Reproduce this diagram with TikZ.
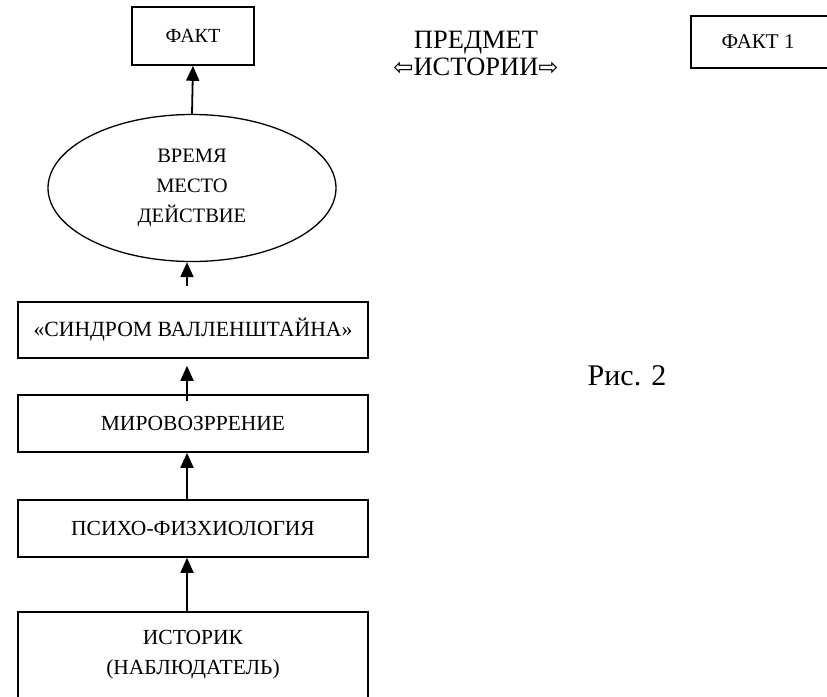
\documentclass[tikz,border=0pt]{standalone}
\usepackage{fontspec}
\setmainfont{Liberation Serif}
\newfontfamily\arrfont{DejaVu Sans}
\usetikzlibrary{shapes.geometric,arrows.meta}

\begin{document}
\begin{tikzpicture}[x=1pt,y=-1pt,>={Triangle[length=15pt,width=13pt]},
  box/.style={draw,line width=1.6pt,minimum width=350pt,inner sep=0pt,align=center},
  arr/.style={->,line width=1.8pt}]
\useasboundingbox (0,0) rectangle (827,696);
\clip (0,0) rectangle (827,696);
% top row
\node[box,minimum width=122pt,minimum height=58pt,font=\fontsize{20}{24}\selectfont] (fakt) at (193,36) {ФАКТ};
\node[align=center,font=\fontsize{26.5}{27}\selectfont] (subj) at (476,53) {ПРЕДМЕТ\\{\arrfont\fontsize{24}{27}\selectfont ⇦}ИСТОРИИ{\arrfont\fontsize{24}{27}\selectfont ⇨}};
\node[box,draw=none,minimum width=170pt,minimum height=50pt,font=\fontsize{21}{25}\selectfont] (fakt1) at (777,42) {\hspace*{-38pt}ФАКТ 1};
\draw[line width=1.6pt] (fakt1.north east) -- (fakt1.north west) -- (fakt1.south west) -- (fakt1.south east);
% column
\node[draw,ellipse,line width=1.3pt,minimum width=288pt,minimum height=147pt,inner sep=0pt,align=center,
  font=\fontsize{20.5}{30}\selectfont] (vmd) at (192,188) {ВРЕМЯ\\МЕСТО\\ДЕЙСТВИЕ};
\node[box,minimum height=56pt,font=\fontsize{21.7}{25}\selectfont] (synd) at (193,330) {«СИНДРОМ ВАЛЛЕНШТАЙНА»};
\node[box,minimum height=57pt,font=\fontsize{21.5}{25}\selectfont] (mirov) at (193,423.5) {МИРОВОЗРРЕНИЕ};
\node[box,minimum height=57pt,font=\fontsize{21.5}{25}\selectfont] (psych) at (193,528.5) {ПСИХО-ФИЗХИОЛОГИЯ};
\node[box,minimum height=86pt,font=\fontsize{21.5}{30}\selectfont] (hist) at (193,655) {ИСТОРИК\\(НАБЛЮДАТЕЛЬ)};
\node[font=\fontsize{30}{34}\selectfont] (fig) at (627,376) {Рис. 2};
% arrows
\coordinate (ax) at (187,0);
\draw[arr] (vmd.north) -- (fakt.south);
\draw[arr,shorten <=15pt] (synd.north -| ax) -- (vmd.south -| ax);
\draw[arr,shorten <=-7pt,shorten >=7pt] (mirov.north -| ax) -- (synd.south -| ax);
\draw[arr] (psych.north -| ax) -- (mirov.south -| ax);
\draw[arr] (hist.north -| ax) -- (psych.south -| ax);
\end{tikzpicture}
\end{document}
